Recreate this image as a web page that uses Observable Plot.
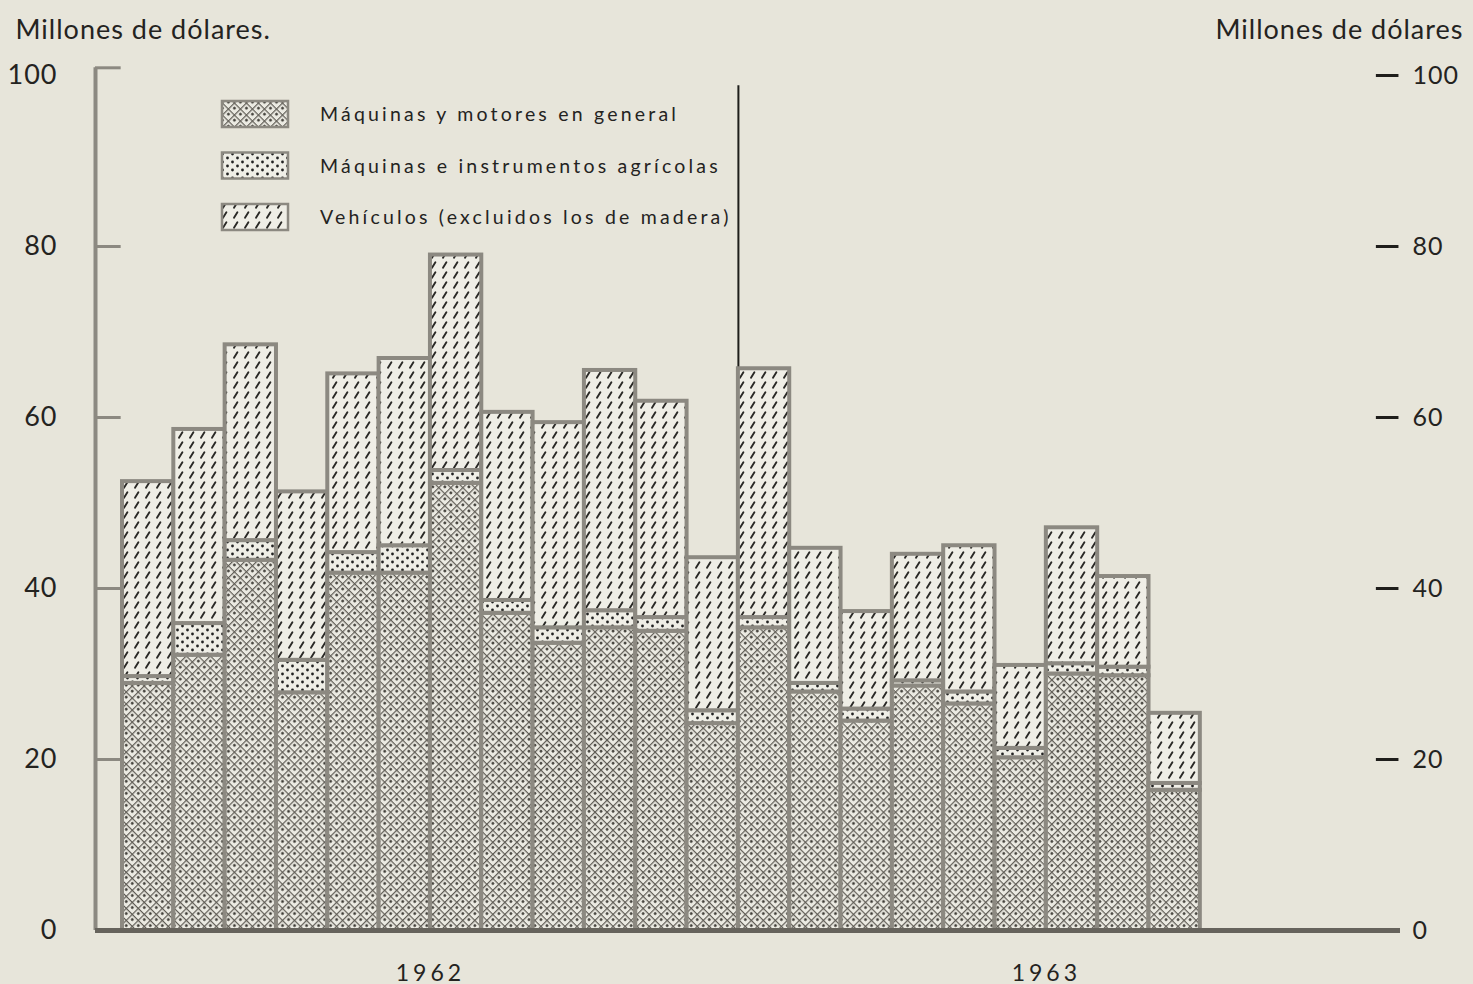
<!DOCTYPE html>
<html><head><meta charset="utf-8">
<script src="https://cdn.jsdelivr.net/npm/d3@7"></script>
<script src="https://cdn.jsdelivr.net/npm/@observablehq/plot@0.6"></script>
<style>
html,body{margin:0;padding:0;background:#e7e5da;}
</style></head><body><div id="chart"></div>
<script>
// ---- data (millones de dólares) ----
const periodos = ["1962-01","1962-02","1962-03","1962-04","1962-05","1962-06","1962-07","1962-08","1962-09","1962-10","1962-11","1962-12",
                  "1963-01","1963-02","1963-03","1963-04","1963-05","1963-06","1963-07","1963-08","1963-09"];
const maquinasMotores   = [28.9, 32.2, 43.3, 27.8, 41.8, 41.8, 52.3, 37.1, 33.6, 35.4, 35.0, 24.2, 35.4, 27.9, 24.5, 28.6, 26.5, 20.2, 30.0, 29.8, 16.4];
const maquinasAgricolas = [0.8, 3.7, 2.3, 3.8, 2.4, 3.2, 1.5, 1.5, 1.8, 2.0, 1.6, 1.5, 1.2, 1.0, 1.4, 0.6, 1.4, 1.1, 1.2, 1.0, 0.8];
const vehiculos         = [22.8, 22.7, 22.9, 19.7, 20.9, 21.9, 25.2, 22.0, 24.0, 28.1, 25.3, 17.9, 29.1, 15.8, 11.4, 14.8, 17.1, 9.7, 15.9, 10.6, 8.2];
const series = ["Máquinas y motores en general", "Máquinas e instrumentos agrícolas", "Vehículos (excluidos los de madera)"];
const years = ["1962", "1963"];
const yTicks = [0, 20, 40, 60, 80, 100];
const unidad = "Millones de dólares";

// ---- build table ----
const patternIds = ["pat-maq", "pat-agr", "pat-veh"];
const valores = [maquinasMotores, maquinasAgricolas, vehiculos];
const tabla = periodos.flatMap((p, i) => series.map((s, k) => ({
  i, periodo: p, serie: s, valor: valores[k][i], fill: `url(#${patternIds[k]})`
})));
const yearStart = y => periodos.findIndex(p => p.startsWith(y));
const sepX = yearStart("1963");
const xmin = -0.526, xmax = 24.9;
const ink = "#24231f", gray = "#8c8981";
const font = "Lato, 'Open Sans', sans-serif";

const chart = Plot.plot({
  width: 1473, height: 984,
  marginLeft: 95, marginRight: 73, marginTop: 75, marginBottom: 54,
  x: {type: "linear", domain: [xmin, xmax], axis: null},
  y: {domain: [0, 100], axis: null},
  color: {type: "identity"},
  style: {background: "#e7e5da", fontFamily: font, color: ink, overflow: "visible"},
  marks: [
    Plot.ruleX([sepX], {y1: 0, y2: 98.8, stroke: "#1f1e1b", strokeWidth: 2}),
    Plot.rectY(tabla, {x1: "i", x2: d => d.i + 1, y: "valor", fill: "fill", stroke: gray, strokeWidth: 4}),
    Plot.ruleX([xmin], {y1: 0, y2: 100.9, stroke: gray, strokeWidth: 4}),
    Plot.ruleY(yTicks.filter(t => t > 0), {x1: xmin, x2: xmin + 0.5, y: t => t === 100 ? 100.9 : t, stroke: gray, strokeWidth: 3}),
    Plot.ruleY(yTicks.filter(t => t > 0), {x1: xmax - 0.47, x2: xmax - 0.03, stroke: "#1f1e1b", strokeWidth: 3}),
    Plot.ruleY([0], {stroke: "#66635c", strokeWidth: 5}),
    Plot.axisY({anchor: "left", label: null, ticks: yTicks, tickSize: 0, tickPadding: 38, fontSize: 27, tickFormat: d => String(d)}),
    Plot.axisY({anchor: "right", label: null, ticks: yTicks, tickSize: 0, tickPadding: 12, fontSize: 25, tickFormat: d => String(d)}),
    Plot.text(years, {x: d => yearStart(d) + 6, y: 0, dy: 43, fontSize: 23, text: d => d}),
    Plot.text([unidad + "."], {frameAnchor: "top-left", lineAnchor: "middle", dx: -80, dy: -45, textAnchor: "start", fontSize: 27}),
    Plot.text([unidad], {frameAnchor: "top-right", lineAnchor: "middle", dx: 63, dy: -45, textAnchor: "end", fontSize: 27})
  ]
});

const svg = d3.select(chart);
const defs = svg.insert("defs", ":first-child");
// machines: diamond lattice with dots
const pm = defs.append("pattern").attr("id", "pat-maq").attr("patternUnits", "userSpaceOnUse")
  .attr("width", 8.5).attr("height", 8.5).attr("patternTransform", "rotate(45)");
pm.append("rect").attr("width", 8.5).attr("height", 8.5).attr("fill", "#ebeae2");
pm.append("path").attr("d", "M0,0H8.5M0,0V8.5").attr("stroke", "#5f5c55").attr("stroke-width", 2.4);
pm.append("circle").attr("cx", 4.25).attr("cy", 4.25).attr("r", 1.4).attr("fill", "#3a3832");
// agricultural: dots
const pa = defs.append("pattern").attr("id", "pat-agr").attr("patternUnits", "userSpaceOnUse")
  .attr("width", 10).attr("height", 8);
pa.append("rect").attr("width", 10).attr("height", 8).attr("fill", "#efeee6");
pa.append("circle").attr("cx", 2.5).attr("cy", 2).attr("r", 1.4).attr("fill", "#222");
pa.append("circle").attr("cx", 7.5).attr("cy", 6).attr("r", 1.4).attr("fill", "#222");
// vehicles: short slashes
const pv = defs.append("pattern").attr("id", "pat-veh").attr("patternUnits", "userSpaceOnUse")
  .attr("width", 11).attr("height", 10);
pv.append("rect").attr("width", 11).attr("height", 10).attr("fill", "#efeee6");
pv.append("path").attr("d", "M3,7.8L6.4,2.3")
  .attr("stroke", "#2a2926").attr("stroke-width", 1.9).attr("stroke-linecap", "round");

svg.selectAll("text").style("letter-spacing", "1px");

// legend inside the chart area
const lg = svg.append("g").attr("font-family", font).attr("text-anchor", "start");
series.forEach((s, k) => {
  const y0 = 101 + k * 51.5;
  lg.append("rect").attr("x", 222).attr("y", y0).attr("width", 66).attr("height", 26)
    .attr("fill", `url(#${patternIds[k]})`).attr("stroke", gray).attr("stroke-width", 2.5);
  lg.append("text").attr("x", 320).attr("y", y0 + 20).attr("font-size", 19.5)
    .attr("fill", ink).style("letter-spacing", "3.2px").text(s);
});

svg.selectAll("text").filter(function(){ return years.includes(this.textContent); })
  .style("letter-spacing", "4px");

document.getElementById("chart").append(chart);
</script>
</body></html>
